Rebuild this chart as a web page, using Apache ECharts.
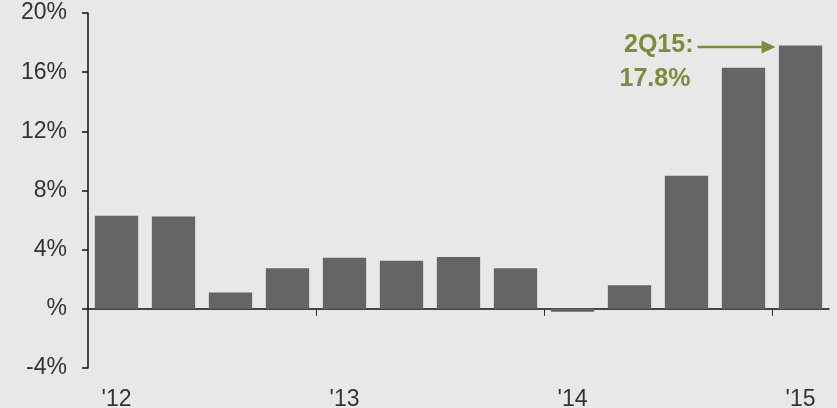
<!DOCTYPE html>
<html>
<head>
<meta charset="utf-8">
<script src="https://cdn.jsdelivr.net/npm/echarts@6/dist/echarts.min.js"></script>
<style>
html,body{margin:0;padding:0;background:#e8e8e8;}
#c{width:837px;height:408px;}
</style>
</head>
<body>
<div id="c"></div>
<script>
var quarters = ['2Q12','3Q12','4Q12','1Q13','2Q13','3Q13','4Q13','1Q14','2Q14','3Q14','4Q14','1Q15','2Q15'];
var yearLabels = ["'12", "'13", "'14", "'15"];
var growth = [6.3, 6.25, 1.1, 2.75, 3.45, 3.25, 3.5, 2.75, -0.2, 1.6, 9.0, 16.3, 17.8];
var yTicks = [-4, 0, 4, 8, 12, 16, 20];
var annoTitle = '2Q15:';
var annoValue = '17.8%';

var chart = echarts.init(document.getElementById('c'), null, {renderer: 'canvas'});
var font = 'Liberation Sans, Arial, sans-serif';
var n = quarters.length;
var boundaries = [];
for (var b = 0; b <= n; b++) boundaries.push(String(b));
chart.setOption({
  backgroundColor: '#e8e8e8',
  animation: false,
  grid: {left: 88, right: 8, top: 13, bottom: 40, containLabel: false, outerBoundsMode: 'none'},
  xAxis: [{
    type: 'category',
    data: quarters,
    boundaryGap: true,
    axisLine: {onZero: true, onZeroAxisIndex: 0, lineStyle: {color: '#111', width: 1.5}},
    axisTick: {show: false},
    axisLabel: {
      interval: function (i) { return i % 4 === 0; },
      formatter: function (v, i) { return yearLabels[i / 4]; },
      margin: 20,
      color: '#333',
      fontSize: 23,
      fontFamily: font
    },
    splitLine: {show: false}
  }, {
    type: 'category',
    data: boundaries,
    boundaryGap: false,
    position: 'bottom',
    axisLine: {show: false, onZero: true, onZeroAxisIndex: 0},
    axisTick: {show: true, interval: function (i) { return i % 4 === 0 && i > 0 && i < n; }, length: 7, lineStyle: {color: '#333', width: 1}},
    axisLabel: {show: false},
    splitLine: {show: false}
  }],
  yAxis: {
    type: 'value',
    min: yTicks[0],
    max: yTicks[yTicks.length - 1],
    interval: 4,
    axisLine: {show: true, lineStyle: {color: '#111', width: 1.5}},
    axisTick: {show: true, length: 6, lineStyle: {color: '#111', width: 1.5}},
    axisLabel: {
      formatter: function (v) { return v === 0 ? '%' : v + '%'; },
      margin: 21,
      color: '#333',
      fontSize: 23,
      fontFamily: font
    },
    splitLine: {show: false}
  },
  series: [{
    type: 'bar',
    xAxisIndex: 0,
    data: growth,
    barCategoryGap: '24%',
    itemStyle: {color: '#656567'}
  }]
});

var last = n - 1;
var p = chart.convertToPixel({seriesIndex: 0}, [last, growth[last]]);
var ax = p[0] - 25, ay = p[1] + 1.5;
var olive = '#7d8b3e';
chart.setOption({
  graphic: [
    {type: 'line', shape: {x1: ax - 78, y1: ay, x2: ax - 10, y2: ay}, style: {stroke: olive, lineWidth: 2.5}},
    {type: 'polygon', shape: {points: [[ax, ay], [ax - 14, ay - 6.5], [ax - 14, ay + 6.5]]}, style: {fill: olive}},
    {type: 'text', x: ax - 82, y: ay - 2, style: {text: annoTitle, fill: olive, font: 'bold 25px ' + font, textAlign: 'right', textVerticalAlign: 'middle'}},
    {type: 'text', x: ax - 156, y: ay + 32, style: {text: annoValue, fill: olive, font: 'bold 25px ' + font, textAlign: 'left', textVerticalAlign: 'middle'}}
  ]
});
</script>
</body>
</html>
